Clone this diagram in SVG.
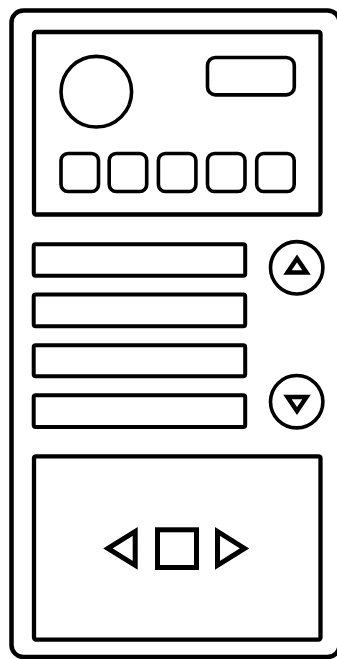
<svg xmlns="http://www.w3.org/2000/svg" width="337" height="659" viewBox="0 0 337 659">
<style>
.s{fill:none;stroke:#000;stroke-linejoin:round}
.g{fill:none;stroke:#000;stroke-width:5;stroke-linejoin:miter}
.t{fill:none;stroke:#000;stroke-width:4.5;stroke-linejoin:miter}
</style>
<rect width="337" height="659" fill="#fff"/>
<g id="frame"><rect class="s" x="11.5" y="10.5" width="328" height="646.5" rx="12" stroke-width="4.5"/></g>
<g id="top-panel">
<rect class="s" x="34" y="32" width="286.5" height="182.5" rx="2" stroke-width="4.3"/>
<circle class="s" cx="96.3" cy="91.7" r="35.3" stroke-width="3.6"/>
<rect class="s" x="207.5" y="57.5" width="86.8" height="37.4" rx="8" stroke-width="3.6"/>
<rect class="s" x="61" y="153.5" width="37.5" height="38" rx="7" stroke-width="3.6"/>
<rect class="s" x="109.2" y="153.5" width="37.5" height="38" rx="7" stroke-width="3.6"/>
<rect class="s" x="158.4" y="153.5" width="37.5" height="38" rx="7" stroke-width="3.6"/>
<rect class="s" x="207.5" y="153.5" width="37.5" height="38" rx="7" stroke-width="3.6"/>
<rect class="s" x="256.7" y="153.5" width="37.5" height="38" rx="7" stroke-width="3.6"/>
</g>
<g id="list">
<rect class="s" x="33.7" y="244.3" width="211.5" height="31.4" rx="2" stroke-width="4"/>
<rect class="s" x="33.7" y="294.5" width="211.5" height="31.8" rx="2" stroke-width="4"/>
<rect class="s" x="33.7" y="345.3" width="211.5" height="31" rx="2" stroke-width="4"/>
<rect class="s" x="33.7" y="395.3" width="211.5" height="31.7" rx="2" stroke-width="4"/>
</g>
<g id="up-button">
<circle class="s" cx="296.7" cy="267.8" r="26.2" stroke-width="3.6"/>
<polygon class="t" points="297,258.5 287.5,272.5 306.5,272.5"/>
</g>
<g id="down-button">
<circle class="s" cx="296.7" cy="401.7" r="26.2" stroke-width="3.6"/>
<polygon class="t" points="287.5,397 306.5,397 297,411"/>
</g>
<g id="bottom-panel">
<rect class="s" x="34" y="456.3" width="286.5" height="183.3" rx="2" stroke-width="4.3"/>
<polygon class="g" points="108,548.4 135.2,531.5 135.2,565.3"/>
<rect class="g" x="157.5" y="529.8" width="39" height="37.7"/>
<polygon class="g" points="217.5,531.5 217.5,565.3 244.5,548.4"/>
</g>
</svg>
